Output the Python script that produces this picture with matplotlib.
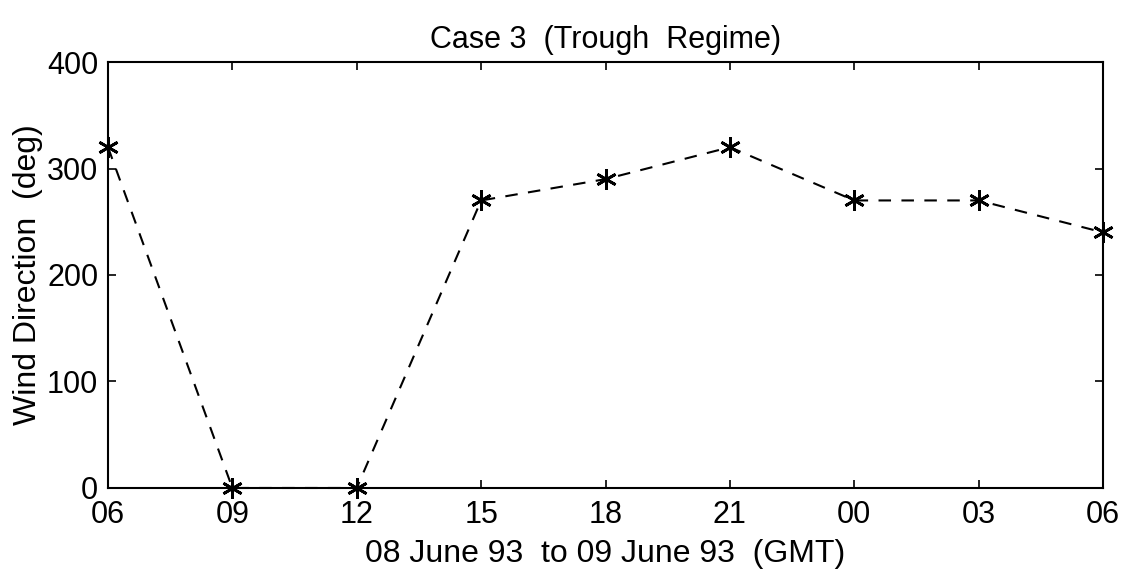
import matplotlib
matplotlib.use("Agg")
import matplotlib.pyplot as plt

hours = ["06", "09", "12", "15", "18", "21", "00", "03", "06"]
direction = [320, 0, 0, 270, 290, 320, 270, 270, 240]
x = list(range(len(hours)))

plt.rcParams["font.family"] = ["Liberation Sans", "DejaVu Sans"]

fig = plt.figure(figsize=(11.26, 5.71), dpi=100)
ax = fig.add_axes([0.0959, 0.1454, 0.8837, 0.746])

ax.plot(x, direction, "k--", lw=1.5, dashes=(6, 5),
        marker=(6, 2, 0), ms=15, mew=2.0, clip_on=False)

ax.set_xlim(0, 8)
ax.set_ylim(0, 400)
ax.set_xticks(x)
ax.set_xticklabels(hours)
ax.set_yticks([0, 100, 200, 300, 400])
ax.tick_params(direction="in", length=6, width=1.2, top=True, right=True,
               labelsize=22)
ax.tick_params(axis="x", pad=9)
ax.tick_params(axis="y", pad=7)
for s in ax.spines.values():
    s.set_linewidth(1.5)

ax.set_title("Case 3  (Trough  Regime)", fontsize=22, pad=10)
ax.set_xlabel("08 June 93  to 09 June 93  (GMT)", fontsize=23, labelpad=6)
ax.set_ylabel("Wind Direction  (deg)", fontsize=23, labelpad=3)

fig.savefig("out.png", dpi=100)
